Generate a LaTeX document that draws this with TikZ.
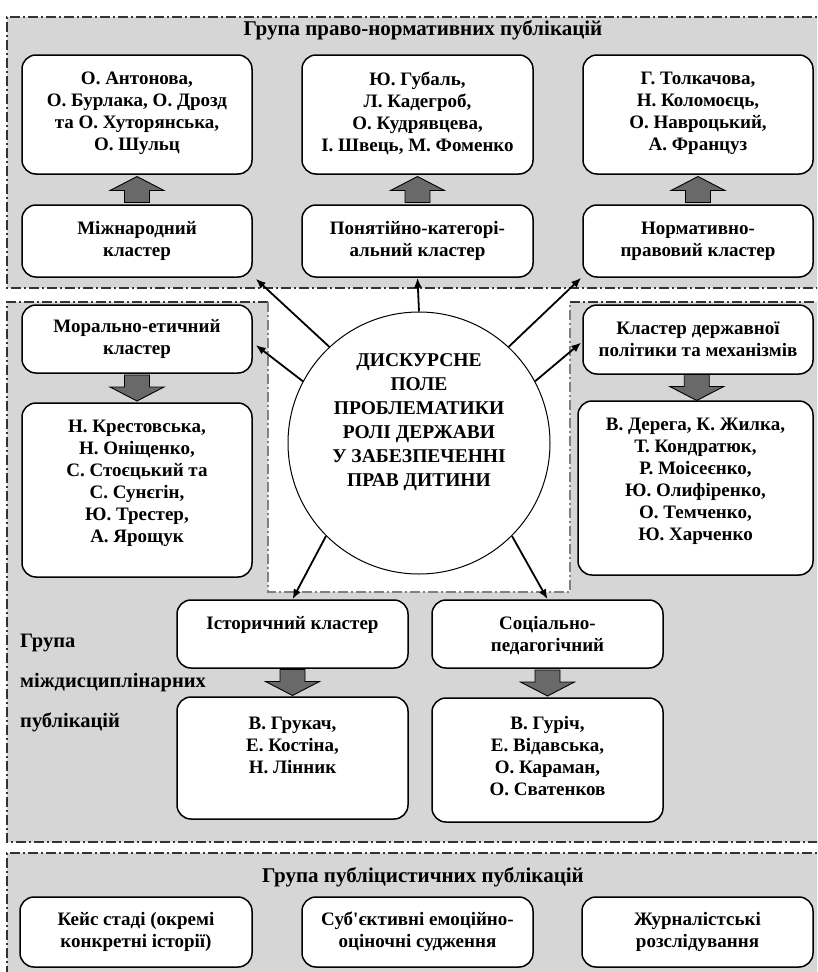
\documentclass[tikz,border=0pt]{standalone}
\usepackage{fontspec}
\setmainfont{Liberation Serif}
\usetikzlibrary{calc,arrows.meta}
\definecolor{grp}{RGB}{214,214,214}
\definecolor{barr}{RGB}{105,105,105}
% block arrow centred at coordinate #1; #2 = 1 points up, -1 points down
\newcommand\blockarr[2]{%
  \draw[bfill] ($(#1)+(-12.5,{#2*13})$) -- ($(#1)+(-12.5,{#2*1})$) -- ($(#1)+(-27,{#2*1})$)
    -- ($(#1)+(0,{#2*(-13)})$) -- ($(#1)+(27,{#2*1})$) -- ($(#1)+(12.5,{#2*1})$)
    -- ($(#1)+(12.5,{#2*13})$) -- cycle;}
\begin{document}
\begin{tikzpicture}[x=1pt,y=-1pt,
 box/.style={draw=black, line width=1.5pt, fill=white, rounded corners=14pt, inner sep=0pt},
 txt/.style={align=center, font=\fontsize{19}{22}\selectfont\bfseries, inner sep=0pt},
 lbl/.style={font=\fontsize{20.5}{22}\selectfont\bfseries, inner sep=0pt},
 ctxt/.style={align=center, font=\fontsize{19.5}{24}\selectfont\bfseries, inner sep=0pt},
 ttl/.style={font=\fontsize{21}{22}\selectfont\bfseries, inner sep=0pt},
 grpline/.style={draw=black!80, line width=1.1pt, dash pattern=on 10pt off 3pt on 2pt off 3pt},
 cutline/.style={draw=black!50, line width=1.3pt, dash pattern=on 10pt off 3pt on 2pt off 3pt},
 arr/.style={-{Latex[length=10pt,width=8pt]}, line width=1.8pt},
 bfill/.style={draw=black, line width=0.9pt, fill=barr, line join=miter},
]
\clip (0,0) rectangle (817,972);
% groups
\fill[grp] (7,17) rectangle (830,288);
\draw[grpline] (830,17) -- (7,17) -- (7,288) -- (830,288);
\fill[grp] (7,302) -- (268,302) -- (268,592) -- (570,592) -- (570,302) -- (830,302) -- (830,842) -- (7,842) -- cycle;
\draw[grpline] (268,302) -- (7,302) -- (7,842) -- (830,842);
\draw[grpline] (570,302) -- (830,302);
\draw[cutline] (268,302) -- (268,592) -- (570,592) -- (570,302);
\fill[grp] (7,853) rectangle (830,990);
\draw[grpline] (830,853) -- (7,853) -- (7,990);
% titles
\node[ttl] (t1) at (423,30) {Група право-нормативних публікацій};
\node[ttl] (t3) at (423,877) {Група публіцистичних публікацій};
\node[lbl, anchor=west] (g1) at (20,643) {Група};
\node[lbl, anchor=west] (g2) at (20,683) {міждисциплінарних};
\node[lbl, anchor=west] (g3) at (20,722) {публікацій};
% top boxes
\node[box, minimum width=230pt, minimum height=119pt] (a1) at (137,114.5) {};
\node[box, minimum width=231pt, minimum height=119pt] (a2) at (417.5,114.5) {};
\node[box, minimum width=230pt, minimum height=119pt] (a3) at (698,114.5) {};
\node[txt] (a1t) at (137,113) {О. Антонова,\\ О. Бурлака, О. Дрозд\\ та О. Хуторянська,\\ О. Шульц};
\node[txt] (a2t) at (417.5,113) {Ю. Губаль,\\ Л. Кадегроб,\\ О. Кудрявцева,\\ І. Швець, М. Фоменко};
\node[txt] (a3t) at (698,113) {Г. Толкачова,\\ Н. Коломоєць,\\ О. Навроцький,\\ А. Француз};
\node[box, minimum width=230pt, minimum height=72pt] (b1) at (137,241) {};
\node[box, minimum width=231pt, minimum height=72pt] (b2) at (417.5,241) {};
\node[box, minimum width=230pt, minimum height=72pt] (b3) at (698,241) {};
\node[txt] (b1t) at (137,241) {Міжнародний\\ кластер};
\node[txt] (b2t) at (417.5,241) {Понятійно-категорі-\\ альний кластер};
\node[txt] (b3t) at (698,241) {Нормативно-\\ правовий кластер};
% left / right
\node[box, minimum width=230pt, minimum height=68pt] (m1) at (137,339) {};
\node[box, minimum width=230pt, minimum height=174pt] (m2) at (137,490) {};
\node[txt] (m1t) at (137,339) {Морально-етичний\\ кластер};
\node[txt] (m2t) at (137,483) {Н. Крестовська,\\ Н. Оніщенко,\\ С. Стоєцький та\\ С. Сунєгін,\\ Ю. Трестер,\\ А. Ярощук};
\node[box, minimum width=230pt, minimum height=69pt] (r1) at (698,339.5) {};
\node[box, minimum width=235pt, minimum height=174pt] (r2) at (695.5,488) {};
\node[txt] (r1t) at (698,339.5) {Кластер державної\\ політики та механізмів};
\node[txt] (r2t) at (695.5,481) {В. Дерега, К. Жилка,\\ Т. Кондратюк,\\ Р. Моісеєнко,\\ Ю. Олифіренко,\\ О. Темченко,\\ Ю. Харченко};
% bottom of middle
\node[box, minimum width=231pt, minimum height=68pt] (h1) at (292.5,634) {};
\node[box, minimum width=231pt, minimum height=122pt] (h2) at (292.5,758) {};
\node[box, minimum width=231pt, minimum height=68pt] (s1) at (547.5,634) {};
\node[box, minimum width=231pt, minimum height=124pt] (s2) at (547.5,760) {};
\node[txt] (h1t) at (292.5,625) {Історичний кластер};
\node[txt] (h2t) at (292.5,745) {В. Грукач,\\ Е. Костіна,\\ Н. Лінник};
\node[txt] (s1t) at (547.5,636) {Соціально-\\ педагогічний};
\node[txt] (s2t) at (547.5,756) {В. Гуріч,\\ Е. Відавська,\\ О. Караман,\\ О. Сватенков};
% bottom group
\node[box, minimum width=232pt, minimum height=70pt] (p1) at (136,932) {};
\node[box, minimum width=231pt, minimum height=70pt] (p2) at (417.5,932) {};
\node[box, minimum width=231pt, minimum height=70pt] (p3) at (697.5,932) {};
\node[txt] (p1t) at (136,932) {Кейс стаді (окремі\\ конкретні історії)};
\node[txt] (p2t) at (417.5,932) {Суб\textquotesingle єктивні емоційно-\\ оціночні судження};
\node[txt] (p3t) at (697.5,932) {Журналістські\\ розслідування};
% circle
\node[draw, circle, minimum size=262pt, line width=1pt, fill=white, inner sep=0pt] (c) at (419,443) {};
\node[ctxt] (ct) at (419,422) {ДИСКУРСНЕ\\ ПОЛЕ\\ ПРОБЛЕМАТИКИ\\ РОЛІ ДЕРЖАВИ\\ У ЗАБЕЗПЕЧЕННІ\\ ПРАВ ДИТИНИ};
% block arrows
\coordinate (u1) at ($(b1.north)!0.5!(a1.south)$);
\coordinate (u2) at ($(b2.north)!0.5!(a2.south)$);
\coordinate (u3) at ($(b3.north)!0.5!(a3.south)$);
\coordinate (d1) at ($(m1.south)!0.5!(m2.north)$);
\coordinate (d2) at ($(r1.south)!0.5!(r2.north)$);
\coordinate (d3) at ($(h1.south)!0.5!(h2.north)$);
\coordinate (d4) at ($(s1.south)!0.5!(s2.north)$);
\blockarr{u1}{1}
\blockarr{u2}{1}
\blockarr{u3}{1}
\blockarr{d1}{-1}
\blockarr{d2}{-1}
\blockarr{d3}{-1}
\blockarr{d4}{-1}
% thin arrows
\draw[arr] (c.133) -- ($(b1.south east)+(3,1)$);
\draw[arr] (c.90) -- (b2.south);
\draw[arr] (c.47) -- ($(b3.south west)+(-1,0)$);
\draw[arr] (c.152) -- ($(m1.east)+(3,6)$);
\draw[arr] (c.28) -- ($(r1.west)+(-1,3)$);
\draw[arr] (c.225) -- (h1.north);
\draw[arr] (c.315) -- (s1.north);
\end{tikzpicture}
\end{document}
